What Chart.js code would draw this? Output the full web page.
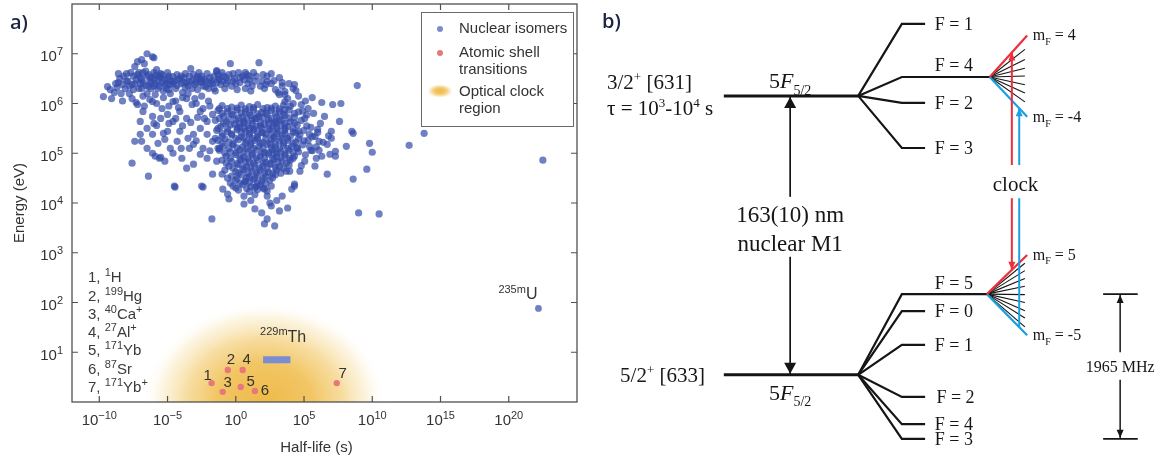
<!DOCTYPE html>
<html>
<head>
<meta charset="utf-8">
<script src="https://cdn.jsdelivr.net/npm/chart.js@4.4.1/dist/chart.umd.min.js"></script>
<style>
  html, body { margin: 0; padding: 0; background: #fff; }
  #wrap { position: relative; width: 1157px; height: 461px; overflow: hidden; }
  #isomerChart { position: absolute; left: 0; top: 0; }
  #levelChart { position: absolute; left: 590px; top: 0; }
</style>
</head>
<body>
<div id="wrap">
  <canvas id="isomerChart" width="590" height="461"></canvas>
  <canvas id="levelChart" width="567" height="461"></canvas>
</div>
<script>
// ---------- a) energy vs half-life ----------
const xTickExp = [-10, -5, 0, 5, 10, 15, 20];
const yTickExp = [1, 2, 3, 4, 5, 6, 7];

// nuclear isomers as [log10 half-life (s), log10 energy (eV)]
const isomerLog = [
  [-9.7,6.14],[-9.4,6.34],[-9.1,6.10],[-8.9,6.22],[-8.8,6.40],[-8.6,6.60],[-8.5,6.50],[-8.3,6.38],[-8.3,6.05],[-8.2,6.55],
  [-8.1,6.30],[-8.0,6.45],[-7.9,6.45],[-7.8,6.20],[-7.7,6.62],[-7.6,6.38],[-7.6,6.10],[-7.5,6.55],[-7.4,6.74],[-7.4,6.40],
  [-7.3,6.48],[-7.3,6.02],[-7.2,6.84],[-7.2,6.58],[-7.1,6.30],[-7.0,6.52],[-6.9,6.88],[-6.9,6.30],[-6.8,6.42],[-6.8,6.62],
  [-6.8,6.15],[-6.7,6.80],[-6.6,6.36],[-6.5,6.55],[-6.5,6.20],[-6.5,7.00],[-6.4,6.58],[-6.3,6.45],[-6.3,6.08],[-6.2,6.30],
  [-6.1,6.94],[-6.0,6.50],[-6.0,6.62],[-6.0,6.35],[-5.9,6.40],[-5.9,6.18],[-5.8,6.68],[-5.7,6.45],[-5.6,6.35],[-5.6,6.55],
  [-5.5,6.52],[-5.5,6.60],[-5.4,6.42],[-5.3,6.25],[-5.3,6.12],[-5.2,6.48],[-5.1,6.30],[-5.0,6.40],[-5.0,6.62],[-4.9,6.55],
  [-4.8,6.38],[-4.8,6.20],[-4.7,6.45],[-4.6,6.54],[-4.5,6.45],[-4.4,6.30],[-4.4,6.05],[-4.3,6.58],[-4.2,6.48],[-4.1,6.50],
  [-4.0,6.40],[-3.9,6.22],[-3.9,6.12],[-3.8,6.52],[-3.7,6.60],[-3.6,6.42],[-3.5,6.35],[-3.5,6.20],[-3.4,6.55],[-3.3,6.70],
  [-3.2,6.45],[-3.1,6.58],[-3.0,6.38],[-3.0,6.10],[-2.9,6.50],[-2.9,6.42],[-2.8,6.28],[-2.7,6.62],[-2.6,6.42],[-2.5,6.55],
  [-2.5,6.15],[-2.4,6.35],[-2.3,6.48],[-2.2,6.45],[-2.1,6.60],[-2.0,6.30],[-2.0,6.05],[-1.9,6.52],[-1.8,6.45],[-1.7,6.40],
  [-1.6,6.55],[-1.5,6.25],[-1.4,6.64],[-1.3,6.48],[-1.2,6.50],[-1.1,6.38],[-1.0,6.62],[-0.9,6.55],[-0.8,6.30],[-0.7,6.40],
  [-0.6,6.45],[-0.5,6.58],[-0.4,6.80],[-0.3,6.35],[-0.1,6.50],[0.0,6.40],[0.1,6.28],[0.2,6.62],[0.3,6.42],[0.5,6.55],
  [0.6,6.48],[0.7,6.30],[0.8,6.58],[0.9,6.40],[1.1,6.25],[1.2,6.35],[1.3,6.62],[1.4,6.45],[1.7,6.82],[1.8,6.35],
  [2.0,6.58],[2.1,6.30],[2.3,6.44],[2.6,6.40],[2.6,6.60],[2.9,6.28],[3.1,6.22],[3.4,6.35],[3.6,6.18],[4.2,6.30],
  [4.4,6.26],[-1.4,6.66],[-6.0,6.92],
  [-9.2,6.28],[-8.7,6.32],[-8.4,6.20],[-8.0,6.60],[-7.8,6.35],[-7.5,6.28],[-7.1,6.62],[-6.9,6.48],[-6.6,6.65],[-6.4,6.34],
  [-6.2,6.52],[-5.9,6.56],[-5.7,6.30],[-5.4,6.58],[-5.2,6.38],[-4.9,6.28],[-4.6,6.40],[-4.3,6.36],[-4.0,6.55],[-3.7,6.32],
  [-3.4,6.44],[-3.2,6.30],[-2.8,6.54],[-2.5,6.44],[-2.2,6.34],[-1.9,6.40],[-1.6,6.30],[-1.3,6.58],[-1.0,6.45],[-0.7,6.52],
  [-0.2,6.60],[0.3,6.52],[0.7,6.62],[1.0,6.48],[1.5,6.55],[1.9,6.45],[2.3,6.55],[2.8,6.46],[3.2,6.52],[3.9,6.40],
  [-8.6,6.42],[-7.0,6.40],[-6.2,6.42],[-5.0,6.50],[-3.8,6.42],[-2.6,6.50],[-1.4,6.42],[-0.2,6.45],[1.0,6.55],[2.2,6.38],
  [-7.2,5.98],[-6.8,5.84],[-6.1,5.74],[-7.0,5.64],[-6.5,5.50],[-5.8,5.56],[-5.4,5.90],[-5.0,5.78],[-4.6,5.64],[-4.1,5.84],
  [-3.6,5.70],[-3.2,5.98],[-2.6,5.84],[-2.3,5.70],[-7.4,5.24],[-6.5,5.10],[-6.1,5.00],[-5.6,4.90],[-5.2,4.84],[-4.8,5.10],
  [-4.3,5.24],[-3.95,4.90],[-3.4,5.10],[-3.1,4.78],[-2.6,4.98],[-2.1,5.38],[-1.7,5.24],[-1.2,5.10],[-7.6,4.80],[-6.4,4.54],
  [-4.5,4.34],[-2.5,4.34],[-1.7,4.58],[-1.0,4.58],[-0.95,4.28],[-0.6,4.18],[-0.5,4.08],[-1.75,3.68],[-7.0,5.38],[-6.1,5.38],
  [-5.3,5.40],[-6.1,6.04],[-4.6,6.04],[-3.6,6.10],[-5.0,5.44],[-4.1,5.44],[-3.1,5.38],[-2.6,5.50],[-2.1,5.64],[-1.7,5.78],
  [-1.2,5.90],[-3.1,5.18],[-2.1,4.90],[-1.4,4.84],[-3.6,4.70],[-4.45,4.32],[-2.4,4.32],[-6.9,5.24],[-5.9,4.94],[-5.5,4.92],
  [-6.0,5.60],[-5.5,5.70],[-4.9,5.60],[-4.4,5.70],[-3.9,5.55],[-3.3,5.62],[-2.8,5.72],[-2.4,5.90],[-1.9,5.95],[-5.7,5.20],
  [-5.2,5.28],[-4.6,5.00],[-4.0,5.10],[-3.5,5.30],[-2.9,5.25],[-2.4,5.10],[-1.9,5.05],[-6.7,5.95],[-5.8,6.00],[-4.9,5.95],
  [-4.2,5.92],[-2.9,6.00],
  [-1.0,5.96],[-0.3,5.93],[0.4,5.97],[1.0,5.94],[1.6,5.98],[2.3,5.92],[2.9,5.95],[3.5,5.97],
  [-1.3,5.86],[-0.6,5.83],[0.1,5.87],[0.7,5.84],[1.3,5.88],[1.9,5.82],[2.6,5.86],[3.2,5.84],[3.9,5.87],[4.6,5.83],
  [-0.9,5.74],[-0.2,5.77],[0.5,5.73],[1.1,5.76],[1.7,5.74],[2.3,5.78],[3.0,5.73],[3.6,5.76],[4.3,5.72],[5.2,5.77],
  [-1.5,5.66],[-0.7,5.63],[0.0,5.67],[0.6,5.64],[1.2,5.66],[1.8,5.62],[2.4,5.67],[2.9,5.64],[3.4,5.66],[4.0,5.63],[4.8,5.66],
  [-1.1,5.54],[-0.4,5.57],[0.3,5.53],[0.9,5.56],[1.5,5.54],[2.1,5.58],[2.7,5.53],[3.3,5.56],[3.8,5.54],[4.5,5.57],[5.5,5.52],
  [-1.4,5.46],[-0.6,5.43],[0.1,5.47],[0.7,5.44],[1.3,5.46],[1.9,5.42],[2.5,5.47],[3.1,5.44],[3.6,5.46],[4.2,5.43],[5.0,5.46],[6.0,5.42],
  [-1.0,5.34],[-0.3,5.37],[0.4,5.33],[1.0,5.36],[1.6,5.34],[2.2,5.38],[2.8,5.33],[3.4,5.36],[4.0,5.34],[4.7,5.37],[5.6,5.33],
  [-1.3,5.26],[-0.5,5.23],[0.2,5.27],[0.8,5.24],[1.4,5.26],[2.0,5.22],[2.6,5.27],[3.2,5.24],[3.8,5.26],[4.4,5.23],[5.3,5.26],[6.4,5.22],
  [-0.9,5.14],[-0.2,5.17],[0.5,5.13],[1.1,5.16],[1.7,5.14],[2.3,5.18],[2.9,5.13],[3.5,5.16],[4.1,5.14],[4.9,5.17],[5.9,5.13],
  [-1.2,5.06],[-0.4,5.03],[0.3,5.07],[0.9,5.04],[1.5,5.06],[2.1,5.02],[2.7,5.07],[3.3,5.04],[3.9,5.06],[4.6,5.03],[5.5,5.06],
  [-0.7,4.94],[0.0,4.97],[0.6,4.93],[1.2,4.96],[1.8,4.94],[2.4,4.98],[3.0,4.93],[3.6,4.96],[4.3,4.94],[5.1,4.97],
  [-1.0,4.86],[-0.3,4.83],[0.4,4.87],[1.0,4.84],[1.6,4.86],[2.2,4.82],[2.8,4.87],[3.4,4.84],[4.0,4.86],
  [-0.5,4.74],[0.2,4.77],[0.8,4.73],[1.4,4.76],[2.0,4.74],[2.6,4.78],[3.2,4.73],[3.9,4.76],
  [-0.8,4.66],[0.0,4.63],[0.6,4.67],[1.2,4.64],[1.8,4.66],[2.4,4.62],[3.0,4.67],[3.7,4.64],
  [-0.3,4.54],[0.4,4.57],[1.0,4.53],[1.6,4.56],[2.2,4.54],[2.9,4.57],
  [0.0,4.46],[0.7,4.43],[1.3,4.47],[1.9,4.44],[2.5,4.46],
  [-0.2,4.34],[0.5,4.37],[1.1,4.33],[1.8,4.36],[2.6,4.34],
  [0.2,4.26],[1.0,4.23],[1.6,4.27],[2.3,4.24],[0.6,4.14],[1.4,4.17],
  [-0.6,5.90],[0.1,5.91],[0.7,5.89],[1.3,5.92],[2.0,5.90],[2.6,5.91],[3.2,5.89],
  [-1.0,5.80],[-0.3,5.79],[0.4,5.81],[1.0,5.80],[1.6,5.79],[2.2,5.81],[2.9,5.80],[3.5,5.79],
  [-1.2,5.70],[-0.5,5.69],[0.2,5.71],[0.8,5.70],[1.4,5.69],[2.0,5.71],[2.6,5.70],[3.2,5.69],[3.9,5.71],
  [-0.9,5.60],[-0.1,5.59],[0.6,5.61],[1.2,5.60],[2.4,5.61],[3.0,5.59],[3.6,5.60],[4.3,5.61],
  [-1.3,5.50],[-0.6,5.49],[0.1,5.51],[0.6,5.50],[1.3,5.49],[1.9,5.51],[2.4,5.50],[3.0,5.49],[3.6,5.51],[4.2,5.49],
  [-1.0,5.40],[-0.3,5.39],[0.4,5.41],[1.0,5.40],[2.0,5.41],[2.6,5.39],[3.6,5.40],[4.4,5.41],
  [-1.5,5.30],[-0.8,5.29],[0.6,5.31],[1.6,5.29],[2.8,5.31],[3.8,5.30],[4.6,5.29],
  [-1.0,5.20],[-0.2,5.19],[1.1,5.21],[1.8,5.20],[2.9,5.19],[3.5,5.21],[4.2,5.20],
  [-1.3,5.10],[0.1,5.11],[0.8,5.09],[2.0,5.10],[2.6,5.11],[3.2,5.09],[3.8,5.10],[4.5,5.11],
  [-0.8,5.00],[0.0,5.01],[1.2,4.99],[2.4,5.01],[3.0,5.00],[3.6,4.99],[4.2,5.01],
  [-0.4,4.90],[0.3,4.89],[1.5,4.91],[2.1,4.90],[2.7,4.89],[3.3,4.91],[3.9,4.90],
  [-0.7,4.80],[0.1,4.79],[0.7,4.81],[1.3,4.80],[2.5,4.79],[3.1,4.81],[3.7,4.80],
  [-0.2,4.70],[0.5,4.69],[1.1,4.71],[1.7,4.70],[2.3,4.69],[2.9,4.71],[3.5,4.70],
  [0.2,4.60],[0.9,4.59],[1.5,4.61],[2.1,4.60],[2.7,4.59],[3.3,4.60],
  [-0.6,4.50],[0.1,4.49],[0.8,4.51],[1.4,4.50],[2.0,4.49],[2.7,4.51],
  [-0.4,4.40],[0.3,4.39],[1.0,4.41],[1.6,4.40],[2.2,4.39],
  [0.0,4.30],[0.8,4.29],[1.4,4.31],[2.0,4.30],
  [0.3,5.60],[1.0,5.50],[1.6,5.40],[2.2,5.30],[0.7,5.20],[1.3,5.10],[1.9,5.00],[2.5,5.20],[3.0,5.40],[0.0,5.30],
  [-0.5,5.10],[1.5,5.70],[2.8,5.60],[0.9,4.90],[2.0,4.80],[2.8,5.00],[3.3,5.30],[1.8,5.55],[1.2,5.30],[0.5,5.00],
  [0.66,4.44],[1.5,4.34],[2.1,4.28],[2.3,4.14],[2.5,4.00],[3.4,4.14],[4.1,4.28],[4.3,4.34],[1.4,3.88],[2.6,3.94],
  [3.8,3.90],[3.2,3.84],[2.3,3.68],[2.1,3.58],[2.85,3.54],[1.9,3.80],[0.6,3.98],[3.0,4.05],[1.1,4.05],
  [3.4,6.42],[4.3,6.38],[3.6,6.24],[3.2,6.18],[3.6,6.04],[4.2,6.00],[4.8,5.98],[5.3,5.90],[6.3,6.02],[7.1,5.98],
  [3.6,5.88],[4.3,5.80],[5.05,5.70],[6.0,5.48],[7.0,5.44],[8.5,5.44],[8.9,6.36],[13.8,5.40],[12.7,5.16],[9.8,5.20],
  [10.0,5.02],[8.6,5.40],[8.1,5.14],[9.6,4.68],[8.6,4.48],[6.7,4.58],[9.0,3.80],[10.5,3.78],[22.5,4.86],[7.3,5.04],
  [7.3,4.94],[5.9,4.90],[6.3,4.94],[7.0,5.30],[7.6,5.64],[6.5,5.74],[5.8,5.34],[5.4,5.14],[5.05,4.84],[4.7,4.64],
  [5.8,4.74],[4.6,5.44],[5.4,5.38],[6.1,5.24],[6.7,5.18],[6.9,4.98],[4.2,4.90],[4.5,5.10],[3.95,4.64],[4.3,4.38],
  [7.7,6.00],[5.6,6.12],[3.8,6.10],[4.6,6.15],[5.1,6.05],[4.0,5.95],[4.9,5.85],[5.7,5.80],[6.2,5.60],[5.2,5.55],
  [6.8,5.35],[5.0,5.25],[5.6,5.05],[4.8,4.75],[6.1,5.06]
];

// atomic clock transitions 1..7
const atomicIds = ['1', '2', '3', '4', '5', '6', '7'];
const atomicHalfLife = [0.017, 0.26, 0.11, 3.2, 2.3, 25, 2.5e7];
const atomicEnergy = [2.4, 4.4, 1.6, 4.4, 2.0, 1.66, 2.4];
const atomicNames = [
  [['1, '], ['1', 'sup'], ['H']],
  [['2, '], ['199', 'sup'], ['Hg']],
  [['3, '], ['40', 'sup'], ['Ca'], ['+', 'sup']],
  [['4, '], ['27', 'sup'], ['Al'], ['+', 'sup']],
  [['5, '], ['171', 'sup'], ['Yb']],
  [['6, '], ['87', 'sup'], ['Sr']],
  [['7, '], ['171', 'sup'], ['Yb'], ['+', 'sup']]
];

// 229mTh: half-life and energy range
const thHalfLife = [1e2, 1e4];
const thEnergy = [6.0, 8.3];
// 235mU
const uHalfLife = 1.5e22;
const uEnergy = 76;
// optical clock region (half-life span, energy span)
const clockHalfLife = [1.6e-7, 1e11];
const clockEnergy = [1, 100];

const SANS = '"Liberation Sans", Arial, sans-serif';
const SERIF = '"Liberation Serif", "Times New Roman", serif';
const ISO_BLUE = 'rgba(50, 74, 170, 0.7)';
const SHELL_RED = '#e7787a';

// text with super/subscripts; parts = [[text, kind]], y = vertical centre
function richText(ctx, parts, x, y, size, family, align, color, ratio) {
  const r = ratio || 0.62;
  const fontOf = kind => {
    const s = (kind === 'sup' || kind === 'sub') ? Math.round(size * r) : size;
    return (kind === 'it' ? 'italic ' : '') + s + 'px ' + family;
  };
  let w = 0;
  parts.forEach(p => { ctx.font = fontOf(p[1]); w += ctx.measureText(p[0]).width; });
  let cx = align === 'center' ? x - w / 2 : align === 'right' ? x - w : x;
  const base = y + size * 0.35;
  ctx.fillStyle = color || '#222';
  ctx.textAlign = 'left';
  ctx.textBaseline = 'alphabetic';
  parts.forEach(p => {
    ctx.font = fontOf(p[1]);
    const dy = p[1] === 'sup' ? -size * 0.4 : p[1] === 'sub' ? size * 0.3 : 0;
    ctx.fillText(p[0], cx, base + dy);
    cx += ctx.measureText(p[0]).width;
  });
  return w;
}

function clockGradient(ctx, cx, cy, rx, ry) {
  ctx.save();
  ctx.translate(cx, cy);
  ctx.scale(1, ry / rx);
  const g = ctx.createRadialGradient(0, 0, 0, 0, 0, rx);
  g.addColorStop(0, 'rgba(238, 182, 62, 0.95)');
  g.addColorStop(0.4, 'rgba(240, 190, 80, 0.88)');
  g.addColorStop(0.65, 'rgba(244, 207, 122, 0.7)');
  g.addColorStop(0.85, 'rgba(249, 229, 178, 0.4)');
  g.addColorStop(1, 'rgba(255, 255, 255, 0)');
  ctx.fillStyle = g;
  ctx.fillRect(-rx, -rx, 2 * rx, 2 * rx);
  ctx.restore();
}

const isomerDecor = {
  id: 'isomerDecor',
  beforeDatasetsDraw(chart) {
    const { ctx, chartArea: a, scales: { x, y } } = chart;
    const x0 = x.getPixelForValue(clockHalfLife[0]);
    const x1 = x.getPixelForValue(clockHalfLife[1]);
    const yb = y.getPixelForValue(clockEnergy[0]);
    const yt = y.getPixelForValue(clockEnergy[1]);
    ctx.save();
    ctx.beginPath();
    ctx.rect(a.left, a.top, a.right - a.left, a.bottom - a.top);
    ctx.clip();
    clockGradient(ctx, (x0 + x1) / 2, yb, (x1 - x0) / 2, yb - yt);
    ctx.restore();

    // 229mTh box
    const tx0 = x.getPixelForValue(thHalfLife[0]), tx1 = x.getPixelForValue(thHalfLife[1]);
    const ty0 = y.getPixelForValue(thEnergy[1]), ty1 = y.getPixelForValue(thEnergy[0]);
    ctx.fillStyle = 'rgb(122, 140, 210)';
    ctx.fillRect(tx0, ty0, tx1 - tx0, ty1 - ty0);
  },
  afterDatasetsDraw(chart) {
    const { ctx, chartArea: a, scales: { x, y } } = chart;
    ctx.save();
    // frame and inward ticks on all sides
    ctx.strokeStyle = '#505050';
    ctx.lineWidth = 1.3;
    ctx.strokeRect(a.left, a.top, a.right - a.left, a.bottom - a.top);
    ctx.lineWidth = 1.2;
    ctx.beginPath();
    xTickExp.forEach(e => {
      const px = x.getPixelForValue(Math.pow(10, e));
      ctx.moveTo(px, a.bottom); ctx.lineTo(px, a.bottom - 6);
      ctx.moveTo(px, a.top); ctx.lineTo(px, a.top + 6);
    });
    yTickExp.forEach(e => {
      const py = y.getPixelForValue(Math.pow(10, e));
      ctx.moveTo(a.left, py); ctx.lineTo(a.left + 6, py);
      ctx.moveTo(a.right, py); ctx.lineTo(a.right - 6, py);
    });
    ctx.stroke();

    // tick labels
    const tickColor = '#333';
    xTickExp.forEach(e => {
      const px = x.getPixelForValue(Math.pow(10, e));
      richText(ctx, [['10'], [String(e).replace('-', '\u2212'), 'sup']], px, a.bottom + 18, 15, SANS, 'center', tickColor, 0.72);
    });
    yTickExp.forEach(e => {
      const py = y.getPixelForValue(Math.pow(10, e));
      richText(ctx, [['10'], [String(e), 'sup']], a.left - 9, py + 2, 15, SANS, 'right', tickColor, 0.72);
    });

    // axis titles
    ctx.fillStyle = '#333';
    ctx.font = '15px ' + SANS;
    ctx.textAlign = 'center';
    ctx.textBaseline = 'middle';
    ctx.fillText('Half-life (s)', (a.left + a.right) / 2 - 8, a.bottom + 46);
    ctx.save();
    ctx.translate(20, (a.top + a.bottom) / 2);
    ctx.rotate(-Math.PI / 2);
    ctx.fillText('Energy (eV)', 0, 0);
    ctx.restore();

    // atomic transition numbers
    const offs = [[-4, -8], [3, -11], [5, -10], [4, -11], [10, -6], [10, -1], [6, -10]];
    atomicIds.forEach((id, i) => {
      const px = x.getPixelForValue(atomicHalfLife[i]);
      const py = y.getPixelForValue(atomicEnergy[i]);
      richText(ctx, [[id]], px + offs[i][0], py + offs[i][1], 15, SANS, 'center', '#333');
    });
    // list of species
    atomicNames.forEach((parts, i) => {
      richText(ctx, parts, a.left + 16, 277 + i * 18.3, 15, SANS, 'left', '#3a3a3a', 0.7);
    });

    // isotope labels
    richText(ctx, [['229m', 'sup'], ['Th']], x.getPixelForValue(thHalfLife[0]) - 3,
      y.getPixelForValue(thEnergy[1]) - 20, 16, SANS, 'left', '#333', 0.68);
    richText(ctx, [['235m', 'sup'], ['U']], x.getPixelForValue(uHalfLife) - 1,
      y.getPixelForValue(uEnergy) - 15, 16, SANS, 'right', '#333', 0.68);

    // legend
    const lx = 421, ly = 12, lw = 152, lh = 114;
    ctx.fillStyle = '#fff';
    ctx.fillRect(lx, ly, lw, lh);
    ctx.strokeStyle = '#6a6a6a';
    ctx.lineWidth = 1;
    ctx.strokeRect(lx + 0.5, ly + 0.5, lw, lh);
    ctx.fillStyle = 'rgba(90, 110, 190, 0.8)';
    ctx.beginPath(); ctx.arc(lx + 19, ly + 17, 3, 0, Math.PI * 2); ctx.fill();
    ctx.fillStyle = SHELL_RED;
    ctx.beginPath(); ctx.arc(lx + 19, ly + 41, 3, 0, Math.PI * 2); ctx.fill();
    clockGradient(ctx, lx + 19, ly + 79, 13, 7);
    const lt = [['Nuclear isomers', 16], ['Atomic shell', 40], ['transitions', 57], ['Optical clock', 79], ['region', 96]];
    lt.forEach(t => richText(ctx, [[t[0]]], lx + 38, ly + t[1], 15, SANS, 'left', '#333'));

    // panel tag
    ctx.fillStyle = '#1b2340';
    ctx.font = '600 20px "Open Sans", ' + SANS;
    ctx.textAlign = 'left';
    ctx.textBaseline = 'middle';
    ctx.fillText('a)', 10, 23);
    ctx.restore();
  }
};

new Chart(document.getElementById('isomerChart'), {
  type: 'scatter',
  data: {
    datasets: [
      {
        label: 'Atomic shell transitions',
        data: atomicHalfLife.map((t, i) => ({ x: t, y: atomicEnergy[i] })),
        backgroundColor: SHELL_RED, pointRadius: 3.2, borderWidth: 0
      },
      {
        label: '235mU',
        data: [{ x: uHalfLife, y: uEnergy }],
        backgroundColor: ISO_BLUE, pointRadius: 3.4, borderWidth: 0
      },
      {
        label: 'Nuclear isomers',
        data: isomerLog.map(p => ({ x: Math.pow(10, p[0]), y: Math.pow(10, p[1]) })),
        backgroundColor: ISO_BLUE, pointRadius: 3.6, borderWidth: 0
      }
    ]
  },
  options: {
    responsive: false,
    animation: false,
    layout: { padding: { left: 72, right: 13, top: 4, bottom: 59 } },
    scales: {
      x: { type: 'logarithmic', min: 1e-12, max: 1e25, display: false },
      y: { type: 'logarithmic', min: 1, max: 1e8, display: false }
    },
    plugins: { legend: { display: false }, tooltip: { enabled: false } }
  },
  plugins: [isomerDecor]
});

// ---------- b) hyperfine scheme of 229Th3+ (diagram units 0-100) ----------
const upperLevel = 79.2, lowerLevel = 18.7;
const upperF = ['1', '4', '2', '3'];
const upperFLevel = [94.8, 83.3, 77.7, 67.9];
const lowerF = ['5', '0', '1', '2', '4', '3'];
const lowerFLevel = [36.2, 32.5, 25.2, 13.9, 8.0, 4.8];
const upperClockF = '4', lowerClockF = '5';
const upperMF = [92.3, 89.3, 87.1, 85.2, 83.5, 81.6, 79.8, 77.9, 74.7];               // mF = 4 .. -4
const lowerMF = [44.7, 42.9, 41.3, 39.6, 37.9, 36.1, 34.4, 32.6, 31.0, 29.1, 27.3];   // mF = 5 .. -5

const X = {
  level0: 23.6, level1: 47.3, knee: 55.0, stub: 59.1,
  fanUp: 70.5, fanLow: 70.0, fanEnd: 77.1, fanEndBlack: 76.7,
  red: 74.4, blue: 75.7, transition: 35.3, brk0: 90.5, brk1: 96.6, brkMid: 93.5, fLabel: 60.8, mfLabel: 78.1
};
const INK = '#151515', RED = '#ec2f3b', BLUE = '#1aa0e2';

const lineSets = [];
function seg(points, color, width, order) {
  lineSets.push({
    data: points.map(p => ({ x: p[0], y: p[1] })),
    borderColor: color, borderWidth: width, order: order,
    showLine: true, pointRadius: 0, fill: false, tension: 0, clip: false
  });
}
const yOn = (x, x0, y0, x1, y1) => y0 + (y1 - y0) * (x - x0) / (x1 - x0);

seg([[X.level0, upperLevel], [X.level1, upperLevel]], INK, 3, 3);
seg([[X.level0, lowerLevel], [X.level1, lowerLevel]], INK, 3, 3);
upperF.forEach((f, i) => {
  const end = f === upperClockF ? X.fanUp : X.stub;
  seg([[X.level1, upperLevel], [X.knee, upperFLevel[i]], [end, upperFLevel[i]]], INK, 2.2, 3);
});
lowerF.forEach((f, i) => {
  const end = f === lowerClockF ? X.fanLow : X.stub;
  seg([[X.level1, lowerLevel], [X.knee, lowerFLevel[i]], [end, lowerFLevel[i]]], INK, 2.2, 3);
});

function fan(x0, y0, ends) {
  ends.forEach((y, j) => {
    if (j > 0 && j < ends.length - 1) seg([[x0, y0], [X.fanEndBlack, y]], INK, 1.1, 4);
  });
  seg([[x0, y0], [X.fanEnd, ends[0]]], RED, 2.2, 2);
  seg([[x0, y0], [X.fanEnd, ends[ends.length - 1]]], BLUE, 2.2, 2);
}
const upFanY = upperFLevel[upperF.indexOf(upperClockF)];
const lowFanY = lowerFLevel[lowerF.indexOf(lowerClockF)];
fan(X.fanUp, upFanY, upperMF);
fan(X.fanLow, lowFanY, lowerMF);

// clock lasers between the stretched states
const clockGap = [57.0, 64.2];
const redTop = yOn(X.red, X.fanUp, upFanY, X.fanEnd, upperMF[0]);
const redBottom = yOn(X.red, X.fanLow, lowFanY, X.fanEnd, lowerMF[0]);
const blueTop = yOn(X.blue, X.fanUp, upFanY, X.fanEnd, upperMF[upperMF.length - 1]);
const blueBottom = yOn(X.blue, X.fanLow, lowFanY, X.fanEnd, lowerMF[lowerMF.length - 1]);
seg([[X.red, redBottom], [X.red, clockGap[0]]], RED, 2, 1);
seg([[X.red, clockGap[1]], [X.red, redTop]], RED, 2, 1);
seg([[X.blue, blueBottom], [X.blue, clockGap[0]]], BLUE, 2, 1);
seg([[X.blue, clockGap[1]], [X.blue, blueTop]], BLUE, 2, 1);

// nuclear transition arrow
const nucGap = [44.3, 57.3];
seg([[X.transition, lowerLevel], [X.transition, nucGap[0]]], INK, 1.7, 3);
seg([[X.transition, nucGap[1]], [X.transition, upperLevel]], INK, 1.7, 3);

// ground-state hyperfine span
const hfTop = Math.max(...lowerFLevel), hfBottom = Math.min(...lowerFLevel);
const hfGap = [17.6, 23.6];
seg([[X.brk0, hfTop], [X.brk1, hfTop]], INK, 1.6, 3);
seg([[X.brk0, hfBottom], [X.brk1, hfBottom]], INK, 1.6, 3);
seg([[X.brkMid, hfBottom], [X.brkMid, hfGap[0]]], INK, 1.5, 3);
seg([[X.brkMid, hfGap[1]], [X.brkMid, hfTop]], INK, 1.5, 3);

function arrowHead(ctx, x, y, up, len, half, color) {
  const by = up ? y + len : y - len;
  ctx.fillStyle = color;
  ctx.beginPath();
  ctx.moveTo(x, y);
  ctx.lineTo(x - half, by);
  ctx.lineTo(x + half, by);
  ctx.closePath();
  ctx.fill();
}

const schemeDecor = {
  id: 'schemeDecor',
  afterDatasetsDraw(chart) {
    const { ctx, scales: { x, y } } = chart;
    const px = v => x.getPixelForValue(v), py = v => y.getPixelForValue(v);
    ctx.save();
    arrowHead(ctx, px(X.transition), py(upperLevel) + 1, true, 11, 6, INK);
    arrowHead(ctx, px(X.transition), py(lowerLevel) - 1, false, 11, 6, INK);
    arrowHead(ctx, px(X.red), py(redTop), true, 8, 3.5, RED);
    arrowHead(ctx, px(X.red), py(redBottom), false, 8, 3.5, RED);
    arrowHead(ctx, px(X.blue), py(blueTop), true, 8, 3.5, BLUE);
    arrowHead(ctx, px(X.brkMid), py(hfTop) + 1, true, 8, 3.5, INK);
    arrowHead(ctx, px(X.brkMid), py(hfBottom) - 1, false, 8, 3.5, INK);

    const T = (parts, xv, yv, size, align) => richText(ctx, parts, px(xv), py(yv), size, SERIF, align, '#161616', 0.62);
    T([['3/2'], ['+', 'sup'], [' [631]']], 3.0, 82.2, 21, 'left');
    T([['\u03c4 = 10'], ['3', 'sup'], ['-10'], ['4', 'sup'], [' s']], 3.0, 76.6, 21, 'left');
    T([['5/2'], ['+', 'sup'], [' [633]']], 5.3, lowerLevel, 21, 'left');
    T([['5'], ['F', 'it'], ['5/2', 'sub']], X.transition, 82.6, 22, 'center');
    T([['5'], ['F', 'it'], ['5/2', 'sub']], X.transition, 15.0, 22, 'center');

    upperF.forEach((f, i) => {
      const yv = f === upperClockF ? upperFLevel[i] + 2.6 : upperFLevel[i];
      T([['F = ' + f]], X.fLabel, yv, 18, 'left');
    });
    lowerF.forEach((f, i) => {
      const yv = f === lowerClockF ? lowerFLevel[i] + 2.4 : lowerFLevel[i];
      T([['F = ' + f]], X.fLabel + (f === '2' ? 0.3 : 0), yv, 18, 'left');
    });

    T([['m'], ['F', 'sub'], [' = 4']], X.mfLabel, upperMF[0] + 0.3, 16, 'left');
    T([['m'], ['F', 'sub'], [' = -4']], X.mfLabel, upperMF[upperMF.length - 1], 16, 'left');
    T([['m'], ['F', 'sub'], [' = 5']], X.mfLabel, lowerMF[0] + 0.2, 16, 'left');
    T([['m'], ['F', 'sub'], [' = -5']], X.mfLabel, lowerMF[lowerMF.length - 1] + 0.2, 16, 'left');

    T([['clock']], (X.red + X.blue) / 2, 60.1, 21, 'center');
    T([['163(10) nm']], X.transition, 53.6, 23, 'center');
    T([['nuclear M1']], X.transition, 47.3, 23, 'center');
    T([['1965 MHz']], X.brkMid, 20.6, 16, 'center');

    ctx.fillStyle = '#1b2340';
    ctx.font = '600 20px "Open Sans", ' + SANS;
    ctx.textAlign = 'left';
    ctx.textBaseline = 'middle';
    ctx.fillText('b)', 12, 22);
    ctx.restore();
  }
};

new Chart(document.getElementById('levelChart'), {
  type: 'scatter',
  data: { datasets: lineSets },
  options: {
    responsive: false,
    animation: false,
    layout: { padding: 0 },
    scales: {
      x: { type: 'linear', min: 0, max: 100, display: false },
      y: { type: 'linear', min: 0, max: 100, display: false }
    },
    plugins: { legend: { display: false }, tooltip: { enabled: false } }
  },
  plugins: [schemeDecor]
});
</script>
</body>
</html>
